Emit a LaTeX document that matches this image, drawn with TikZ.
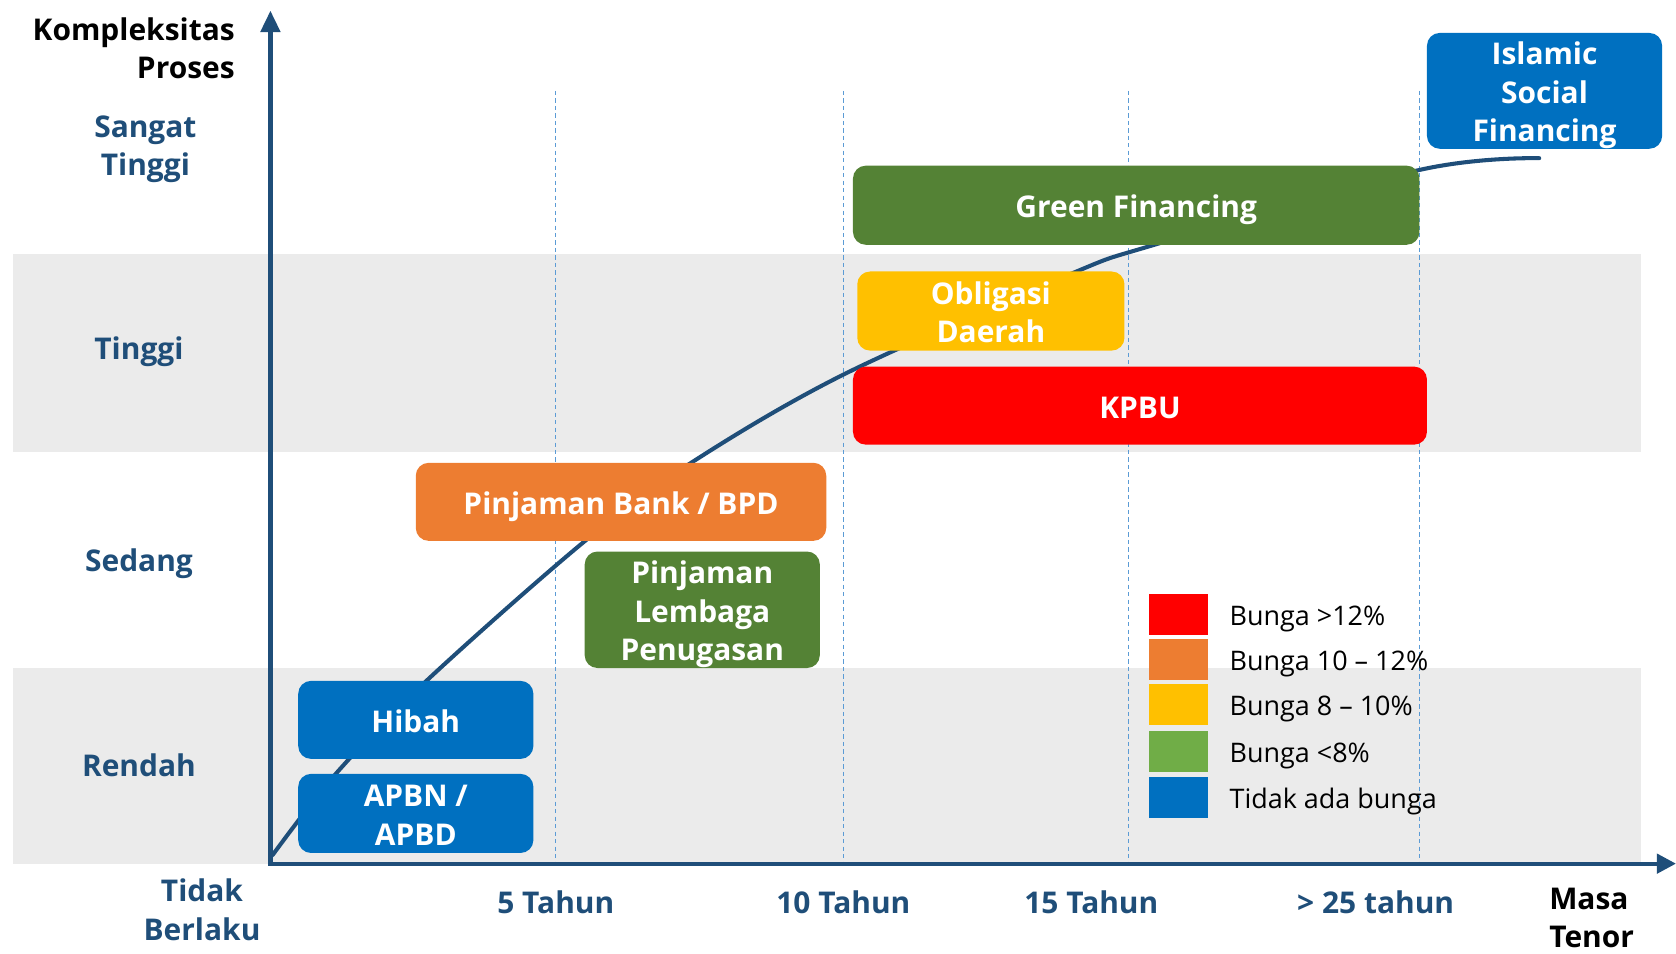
\documentclass[tikz,border=0pt]{standalone}
\usepackage{fontspec}
\setmainfont{Open Sans}
\usetikzlibrary{arrows.meta}
\definecolor{axisblue}{HTML}{1F4E79}
\definecolor{bandgray}{HTML}{EBEBEB}
\definecolor{gridblue}{HTML}{5B9BD5}
\definecolor{fblue}{HTML}{0070C0}
\definecolor{fgreen}{HTML}{548235}
\definecolor{flightgreen}{HTML}{70AD47}
\definecolor{fyellow}{HTML}{FFC000}
\definecolor{forange}{HTML}{ED7D31}
\definecolor{fred}{HTML}{FF0000}
% struts giving every label the same line box, whatever its letters
\newcommand\lnbeg{\rule{0pt}{1.06em}}
\newcommand\lnend{\rule[-0.22em]{0pt}{0.22em}}
\begin{document}
\begin{tikzpicture}[x=0.5pt,y=-0.5pt,
  instr/.style={rectangle, rounded corners=6pt, fill=#1, text=white,
    font=\fontsize{14}{18}\selectfont\bfseries, align=center, inner sep=0pt},
  level/.style={text=axisblue, font=\fontsize{14}{18}\selectfont\bfseries, align=center, inner sep=0pt},
  axtitle/.style={text=black, font=\fontsize{14}{18}\selectfont\bfseries, inner sep=0pt},
  gridline/.style={gridblue, line width=0.5pt, dash pattern=on 2pt off 1.5pt},
  axisline/.style={axisblue, line width=2pt},
  swatch/.style={rectangle, fill=#1, minimum width=27.5pt, minimum height=19pt, inner sep=0pt},
  legtext/.style={anchor=west, font=\fontsize{12.6}{16}\selectfont, inner sep=0pt}
]
\useasboundingbox (0,0) rectangle (1568,892);

% horizontal bands
\fill[bandgray] (12,238) rectangle (1535,423);
\fill[bandgray] (12,625) rectangle (1535,808);

% vertical grid lines
\foreach \gx in {520,789,1056,1328}
  \draw[gridline] (\gx,85) -- (\gx,808);

% axes
\coordinate (origin) at (253,808);
\coordinate (ytip) at (253,10);
\coordinate (xtip) at (1568,808);
\draw[axisline, -{Triangle[length=10pt,width=9pt]}] ([yshift=-1pt]origin) -- (ytip);
\draw[axisline, -{Triangle[length=9pt,width=9pt]}] ([xshift=-1pt]origin) -- (xtip);

% growth curve
\draw[axisblue, line width=1.9pt, line cap=round]
  plot[smooth, tension=0.55] coordinates {(255,800) (315,723) (400,636) (545,508) (645,434) (790,350) (1000,257) (1080,229) (1328,159) (1440,148)};

% instruments
\node[instr=fblue, minimum width=110pt, minimum height=53pt] (isf) at (1445,85) {\lnbeg Islamic\\Social\\Financing\lnend};
\node[instr=fgreen, minimum width=265pt, minimum height=37pt] (green) at (1063,192) {\lnbeg Green Financing\lnend};
\node[instr=fyellow, minimum width=125pt, minimum height=37pt] (obl) at (927,291) {\lnbeg Obligasi\\Daerah\lnend};
\node[instr=fred, minimum width=268.5pt, minimum height=36.5pt] (kpbu) at (1066.5,379.5) {\lnbeg KPBU\lnend};
\node[instr=forange, minimum width=192pt, minimum height=36.5pt] (bank) at (581,469.5) {\lnbeg Pinjaman Bank / BPD\lnend};
\node[instr=fgreen, minimum width=110pt, minimum height=54.5pt] (lembaga) at (657,570.5) {\lnbeg Pinjaman\\Lembaga\\Penugasan\lnend};
\node[instr=fblue, minimum width=110pt, minimum height=36.5pt] (hibah) at (389,673.5) {\lnbeg Hibah\lnend};
\node[instr=fblue, minimum width=110pt, minimum height=37pt] (apbn) at (389,761) {\lnbeg APBN /\\APBD\lnend};

% axis titles
\node[axtitle, anchor=east, align=right] (ytitle) at (220,44) {\lnbeg Kompleksitas\\Proses\lnend};
\node[axtitle, anchor=west, align=left] (xtitle) at (1449,857) {\lnbeg Masa\\Tenor\lnend};

% complexity levels
\node[level] (lvst) at (136,135) {\lnbeg Sangat\\Tinggi\lnend};
\node[level] (lvt) at (130,325) {\lnbeg Tinggi\lnend};
\node[level] (lvs) at (130,523) {\lnbeg Sedang\lnend};
\node[level] (lvr) at (130,715) {\lnbeg Rendah\lnend};
\node[level] (lvn) at (189,850) {\lnbeg Tidak\\Berlaku\lnend};

% tenor ticks
\node[level] (t5) at (520,843) {\lnbeg 5 Tahun\lnend};
\node[level] (t10) at (789,843) {\lnbeg 10 Tahun\lnend};
\node[level] (t15) at (1021,843) {\lnbeg 15 Tahun\lnend};
\node[level] (t25) at (1287,843) {\lnbeg > 25 tahun\lnend};

% legend
\node[swatch=fred] (s1) at (1102.5,575) {};
\node[swatch=forange] (s2) at (1102.5,617) {};
\node[swatch=fyellow] (s3) at (1102.5,659) {};
\node[swatch=flightgreen] (s4) at (1102.5,703) {};
\node[swatch=fblue] (s5) at (1102.5,746) {};
\node[legtext] (l1) at (1150,575) {\lnbeg Bunga >12\%\lnend};
\node[legtext] (l2) at (1150,617) {\lnbeg Bunga 10 – 12\%\lnend};
\node[legtext] (l3) at (1150,659) {\lnbeg Bunga 8 – 10\%\lnend};
\node[legtext] (l4) at (1150,703) {\lnbeg Bunga <8\%\lnend};
\node[legtext] (l5) at (1150,746) {\lnbeg Tidak ada bunga\lnend};
\end{tikzpicture}
\end{document}
